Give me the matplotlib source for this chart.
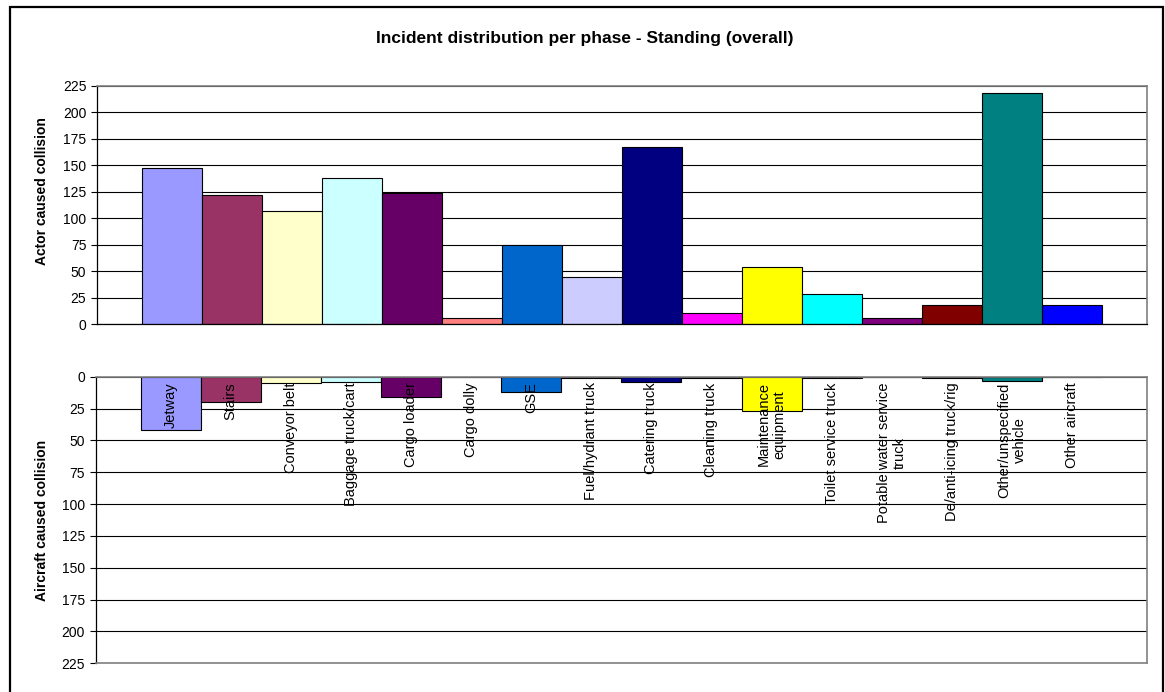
import matplotlib
matplotlib.use("Agg")
import matplotlib.pyplot as plt
from matplotlib.patches import Rectangle

plt.rcParams['font.family'] = ['Liberation Sans', 'DejaVu Sans']

# categories (bottom labels)
categories = ["Jetway", "Stairs", "Conveyor belt", "Baggage truck/cart", "Cargo loader",
              "Cargo dolly", "GSE", "Fuel/hydrant truck", "Catering truck", "Cleaning truck",
              "Maintenance\nequipment", "Toilet service truck", "Potable water service\ntruck",
              "De/anti-icing truck/rig", "Other/unspecified\nvehicle", "Other aircraft"]

# actor caused collision (upper panel)
actor = [147, 122, 107, 138, 124, 6, 75, 44, 167, 10, 54, 28, 6, 18, 218, 18]
# aircraft caused collision (lower panel, drawn downwards)
aircraft = [42, 20, 5, 4, 16, 0, 12, 1, 4, 1, 27, 1, 0, 1, 3, 0]

colors = ["#9999FF", "#993366", "#FFFFCC", "#CCFFFF", "#660066", "#FF8080", "#0066CC",
          "#CCCCFF", "#000080", "#FF00FF", "#FFFF00", "#00FFFF", "#800080", "#800000",
          "#008080", "#0000FF"]

yticks = list(range(0, 226, 25))

W, H = 1165, 692
fig = plt.figure(figsize=(W / 100, H / 100), dpi=100)

ax1 = fig.add_axes([96.7 / W, 1 - 324 / H, (1147.3 - 96.7) / W, (324 - 85.7) / H])
ax2 = fig.add_axes([95.5 / W, 1 - 663.3 / H, (1147.2 - 95.5) / W, (663.3 - 376.7) / H])

x = list(range(len(categories)))

for ax in (ax1, ax2):
    ax.set_xlim(-1.25, len(categories) - 1 + 1.25)
    ax.set_yticks(yticks)
    ax.yaxis.grid(True, color="black", linewidth=0.8)
    ax.set_axisbelow(True)
    ax.set_xticks([])
    ax.tick_params(axis="y", direction="out", length=4.5, width=0.8, pad=3,
                   labelsize=10, color="black")
    for s in ("top", "right"):
        ax.spines[s].set_color("#808080")
        ax.spines[s].set_linewidth(1.2)
    ax.spines["left"].set_color("black")
    ax.spines["left"].set_linewidth(0.9)

ax1.bar(x, actor, width=1.0, color=colors, edgecolor="black", linewidth=0.8, zorder=2)
ax1.set_ylim(0, 225)
ax1.spines["bottom"].set_color("black")
ax1.spines["bottom"].set_linewidth(0.9)

ax2.bar(x, aircraft, width=1.0, color=colors, edgecolor="black", linewidth=0.8, zorder=2)
ax2.set_ylim(225, 0)
ax2.spines["bottom"].set_color("#808080")
ax2.spines["bottom"].set_linewidth(1.2)

for i, lab in enumerate(categories):
    ax2.text(i, 4.5, lab, rotation=90, ha="center", va="top", multialignment="center",
             fontsize=10.5, zorder=3)

fig.text(585 / W, 1 - 38 / H, "Incident distribution per phase - Standing (overall)",
         ha="center", va="center", fontsize=12.5, fontweight="bold")
fig.text(42 / W, 1 - 191 / H, "Actor caused collision", rotation=90,
         ha="center", va="center", fontsize=10, fontweight="bold")
fig.text(42 / W, 1 - 520 / H, "Aircraft caused collision", rotation=90,
         ha="center", va="center", fontsize=10, fontweight="bold")

# outer chart frame
fig.patches.append(Rectangle((9.5 / W, -0.05), (1163 - 9.5) / W, 1.05 - 6.5 / H,
                             transform=fig.transFigure, fill=False,
                             edgecolor="black", linewidth=1.6))

fig.savefig("out.png", dpi=100)
